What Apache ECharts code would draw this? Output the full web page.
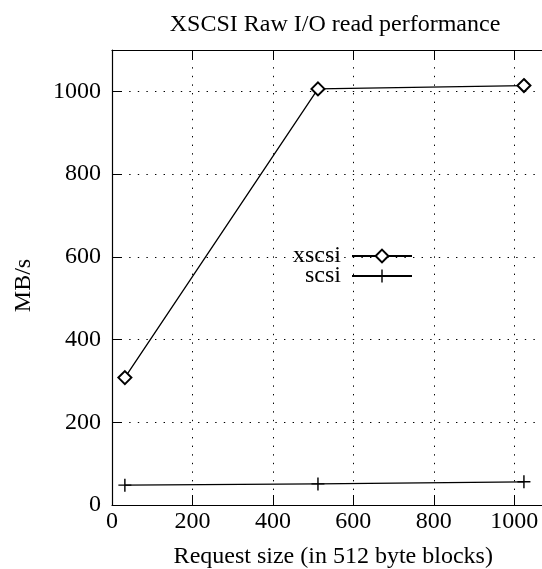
<!DOCTYPE html>
<html>
<head>
<meta charset="utf-8">
<title>XSCSI Raw I/O read performance</title>
<script src="https://cdn.jsdelivr.net/npm/echarts@6/dist/echarts.min.js"></script>
<style>
  html, body { margin: 0; padding: 0; background: #fff; }
  #chart { width: 542px; height: 569px; }
</style>
</head>
<body>
<div id="chart"></div>
<script>
// Request sizes (512-byte blocks) and measured throughput (MB/s)
const requestSizes = [32, 512, 1024];
const xscsiRates = [308, 1006, 1014];
const scsiRates = [48, 51, 56];
const seriesNames = ['xscsi', 'scsi'];
const titleText = 'XSCSI Raw I/O read performance';
const xAxisTitle = 'Request size (in 512 byte blocks)';
const yAxisTitle = 'MB/s';

const FONT = '"Liberation Serif", "Times New Roman", serif';
const INK = '#000';
const PLUS = 'path://M0,4.45L10,4.45L10,5.55L0,5.55Z M4.45,0L5.55,0L5.55,10L4.45,10Z';

const pairs = (xs, ys) => xs.map((x, i) => [x, ys[i]]);
const plain = (v) => String(v);

const dotted = { color: INK, width: 1, type: [1.4, 7.2], cap: 'butt' };

const legendBox = (name, top) => ({
  data: [name],
  right: 129,
  top: top,
  padding: 0,
  align: 'right',
  itemWidth: 60,
  itemHeight: 16,
  selectedMode: false,
  textStyle: { fontFamily: FONT, fontSize: 24, color: INK, padding: [0, 6, 0, 0] }
});

const chart = echarts.init(document.getElementById('chart'), null, { renderer: 'canvas' });

chart.setOption({
  animation: false,
  backgroundColor: '#fff',
  textStyle: { fontFamily: FONT, color: INK },
  title: {
    text: titleText,
    left: 330,
    top: 8,
    textAlign: 'center',
    textStyle: { fontFamily: FONT, fontSize: 24, fontWeight: 'normal', color: INK }
  },
  legend: [legendBox(seriesNames[0], 244), legendBox(seriesNames[1], 264)],
  grid: {
    left: 112, top: 50, width: 442.5, height: 455,
    containLabel: false,
    outerBoundsMode: 'none'
  },
  xAxis: [
    {
      type: 'value',
      position: 'bottom',
      min: 0,
      max: 1100,
      interval: 200,
      name: xAxisTitle,
      nameLocation: 'middle',
      nameGap: 40,
      nameTextStyle: { fontFamily: FONT, fontSize: 24, color: INK },
      axisLine: { show: true, onZero: false, lineStyle: { color: INK, width: 1.2 } },
      axisTick: { show: true, inside: true, length: 10, lineStyle: { color: INK, width: 1 } },
      axisLabel: { fontFamily: FONT, fontSize: 24, color: INK, margin: 5, showMaxLabel: false, formatter: plain },
      splitLine: { show: true, showMaxLine: false, lineStyle: dotted }
    },
    {
      type: 'value',
      position: 'top',
      min: 0,
      max: 1100,
      interval: 200,
      axisLine: { show: true, onZero: false, lineStyle: { color: INK, width: 1.2 } },
      axisTick: { show: true, inside: true, length: 10, lineStyle: { color: INK, width: 1 } },
      axisLabel: { show: false },
      splitLine: { show: false }
    }
  ],
  yAxis: {
    type: 'value',
    min: 0,
    max: 1100,
    interval: 200,
    name: yAxisTitle,
    nameLocation: 'middle',
    nameGap: 76,
    nameTextStyle: { fontFamily: FONT, fontSize: 24, color: INK, padding: [0, 16, 0, 0] },
    axisLine: { show: true, onZero: false, lineStyle: { color: INK, width: 1.2 } },
    axisTick: { show: true, inside: true, length: 10, lineStyle: { color: INK, width: 1 } },
    axisLabel: { fontFamily: FONT, fontSize: 24, color: INK, margin: 11, showMaxLabel: false, formatter: plain, padding: [4, 0, 0, 0] },
    splitLine: { show: true, showMaxLine: false, lineStyle: dotted }
  },
  series: [
    {
      name: seriesNames[0],
      type: 'line',
      data: pairs(requestSizes, xscsiRates),
      symbol: 'emptyDiamond',
      symbolSize: 13,
      showAllSymbol: true,
      lineStyle: { color: INK, width: 1.3 },
      itemStyle: { color: INK, borderColor: INK, borderWidth: 1.2 },
      z: 3
    },
    {
      name: seriesNames[1],
      type: 'line',
      data: pairs(requestSizes, scsiRates),
      symbol: PLUS,
      symbolSize: 13,
      showAllSymbol: true,
      lineStyle: { color: INK, width: 1.3 },
      itemStyle: { color: INK },
      z: 3
    }
  ]
});
</script>
</body>
</html>
